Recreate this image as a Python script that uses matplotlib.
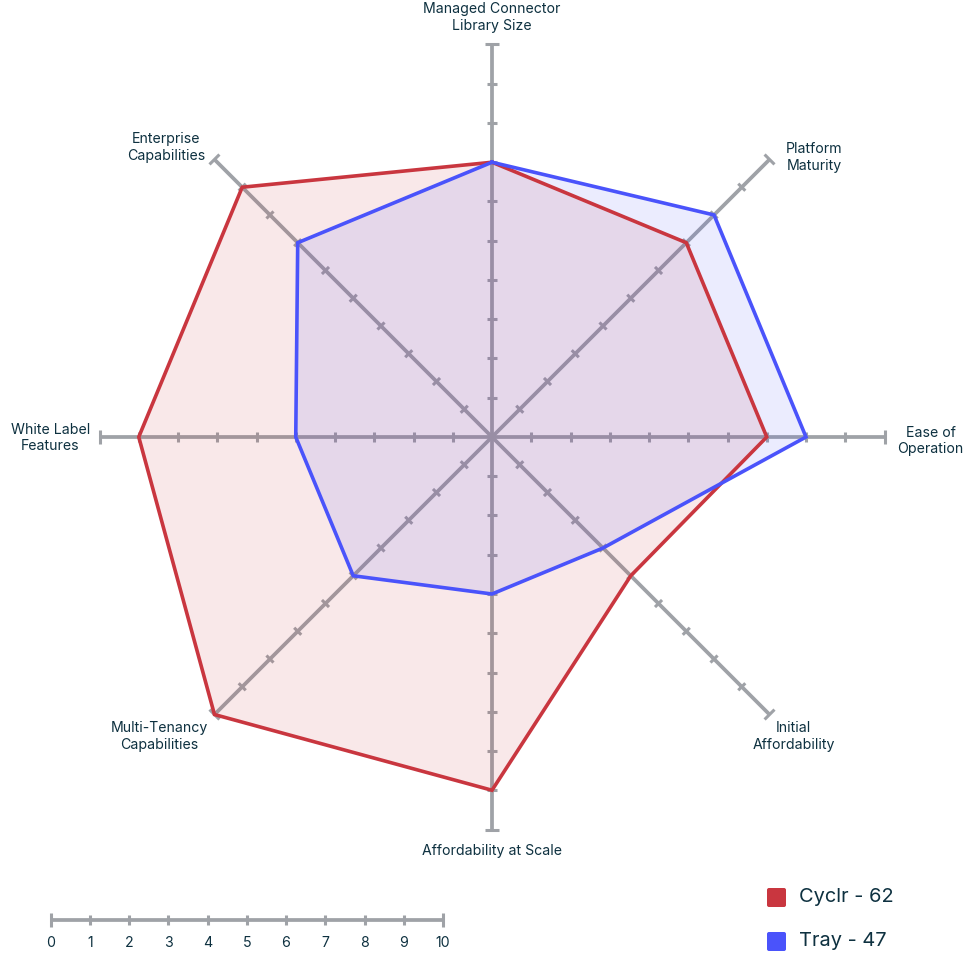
import numpy as np
import matplotlib
matplotlib.use('Agg')
import matplotlib.pyplot as plt
from matplotlib.collections import LineCollection
from matplotlib.patches import FancyBboxPatch

plt.rcParams['font.family'] = ['Inter', 'DejaVu Sans']

# data
categories = ['Managed Connector\nLibrary Size', 'Platform\nMaturity', 'Ease of\nOperation',
              'Initial\nAffordability', 'Affordability at Scale', 'Multi-Tenancy\nCapabilities',
              'White Label\nFeatures', 'Enterprise\nCapabilities']
cyclr = [7, 7, 7, 5, 9, 10, 9, 9]
tray = [7, 8, 8, 4, 4, 5, 5, 7]
series_names = ['Cyclr - 62', 'Tray - 47']
scale_ticks = [0, 1, 2, 3, 4, 5, 6, 7, 8, 9, 10]

RED = '#c9363f'
BLUE = '#4a53fb'
GREY = '#9fa2a7'
TEXT = '#0e3140'

W, H = 968, 956
cx, cy = 492, 437          # centre in pixels
s = 39.25                  # pixels per unit
vmax = scale_ticks[-1]

fig = plt.figure(figsize=(W / 100, H / 100), dpi=100)
ax = fig.add_axes([0, 0, 1, 1])
ax.set_xlim(-cx / s, (W - cx) / s)
ax.set_ylim(-(H - cy) / s, cy / s)
ax.axis('off')

n = len(categories)
angles = np.pi / 2 - np.arange(n) * 2 * np.pi / n

# spokes with tick marks
small = 5 / s
big = 7 / s
for a in angles:
    ux, uy = np.cos(a), np.sin(a)
    px, py = -uy, ux
    ax.plot([0, vmax * ux], [0, vmax * uy], color=GREY, lw=2.7, solid_capstyle='butt', zorder=1)
    segs = []
    for k in scale_ticks[1:]:
        h = big if k == vmax else small
        segs.append([(k * ux - h * px, k * uy - h * py), (k * ux + h * px, k * uy + h * py)])
    ax.add_collection(LineCollection(segs, colors=GREY, linewidths=2.2, zorder=1))

# series
def polygon(vals):
    v = np.array(vals + vals[:1], dtype=float)
    a = np.concatenate([angles, angles[:1]])
    return v * np.cos(a), v * np.sin(a)

for vals, col, alpha in [(cyclr, RED, 0.11), (tray, BLUE, 0.11)]:
    x, y = polygon(vals)
    ax.fill(x, y, color=col, alpha=alpha, lw=0, zorder=2)
for vals, col in [(cyclr, RED), (tray, BLUE)]:
    x, y = polygon(vals)
    ax.plot(x, y, color=col, lw=2.6, solid_joinstyle='miter', zorder=3)

# category labels (pixel offsets from the spoke ends)
offsets = [(0, 27), (45, 2), (46, -4), (24, -22), (0, -22), (-55, -22), (-49, -1), (-48, 12)]
for lab, a, (dx, dy) in zip(categories, angles, offsets):
    ax.annotate(lab, xy=(vmax * np.cos(a), vmax * np.sin(a)),
                xytext=(dx * 0.72, dy * 0.72), textcoords='offset points',
                ha='center', va='center', multialignment='center',
                fontsize=10.2, color=TEXT, linespacing=1.25)

# scale bar
x0 = (50.5 - cx) / s
yb = (cy - 920) / s
ax.plot([x0, x0 + vmax], [yb, yb], color=GREY, lw=2.7, solid_capstyle='butt')
segs = []
for k in scale_ticks:
    h = big if k in (0, vmax) else small
    segs.append([(x0 + k, yb - h), (x0 + k, yb + h)])
ax.add_collection(LineCollection(segs, colors=GREY, linewidths=2.2))
for k in scale_ticks:
    ax.text(x0 + k, (cy - 943) / s, str(k), ha='center', va='center', fontsize=10.2, color=TEXT)

# legend
for i, (name, col) in enumerate(zip(series_names, [RED, BLUE])):
    yc = (cy - (897.5 + 44 * i)) / s
    sq = 19 / s
    ax.add_patch(FancyBboxPatch(((767 - cx) / s, yc - sq / 2), sq, sq,
                                boxstyle='round,pad=0,rounding_size=0.05',
                                fc=col, ec='none'))
    ax.text((799 - cx) / s, yc, name, ha='left', va='center', fontsize=14.4, color=TEXT)

fig.savefig('out.png', dpi=100, facecolor='white')
